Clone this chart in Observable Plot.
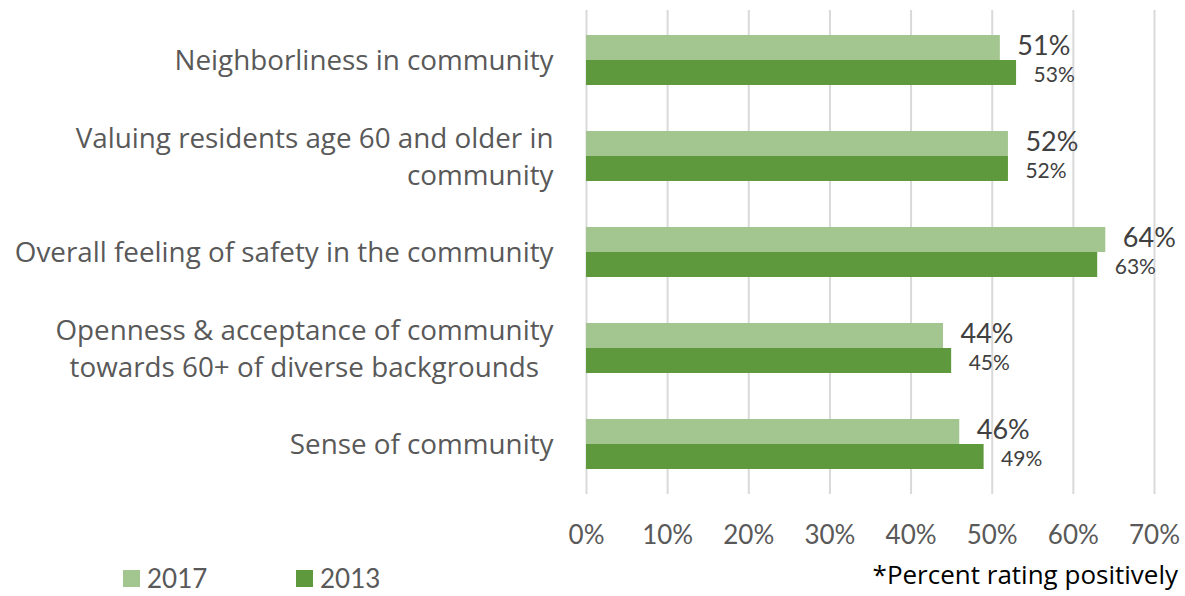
<!DOCTYPE html>
<html><head><meta charset="utf-8">
<script src="https://cdn.jsdelivr.net/npm/d3@7"></script>
<script src="https://cdn.jsdelivr.net/npm/@observablehq/plot@0.6"></script>
<style>
body{margin:0;background:#fff;font-family:Lato,"Open Sans",sans-serif}
#wrap{position:relative;width:1185px;height:596px;overflow:hidden;background:#fff}
#chart svg{display:block}
.leg{position:absolute;top:565px;font-size:26px;color:#595959;display:flex;align-items:center;line-height:1}
.sw{display:inline-block;width:17px;height:17px;margin-right:7px}
#note{position:absolute;right:7px;top:561px;font-size:26px;color:#000;line-height:1;font-family:"Open Sans",sans-serif}
</style></head><body>
<div id="wrap"><div id="chart"></div>
<div class="leg" id="leg1" style="left:123px"><span class="sw" id="sw1"></span><span id="lt1"></span></div>
<div class="leg" id="leg2" style="left:296px"><span class="sw" id="sw2"></span><span id="lt2"></span></div>
<div id="note">*Percent rating positively</div>
</div>
<script>
const categories = [
  "Neighborliness in community",
  "Valuing residents age 60 and older in\ncommunity",
  "Overall feeling of safety in the community",
  "Openness & acceptance of community\ntowards 60+ of diverse backgrounds\u00a0\u00a0",
  "Sense of community"
];
const series = ["2017", "2013"];
const values2017 = [51, 52, 64, 44, 46];
const values2013 = [53, 52, 63, 45, 49];
const xTicks = [0, 10, 20, 30, 40, 50, 60, 70];
const colors = ["#a3c58f", "#5f993d"];

const d2017 = categories.map((c, i) => ({category: c, series: series[0], value: values2017[i]}));
const d2013 = categories.map((c, i) => ({category: c, series: series[1], value: values2013[i]}));

const chart = Plot.plot({
  width: 1185, height: 560,
  marginLeft: 586, marginRight: 31, marginTop: 10, marginBottom: 66,
  style: {fontFamily: "Lato, 'Open Sans', sans-serif", background: "#fff"},
  x: {domain: [0, 70]},
  y: {domain: categories, paddingInner: 0.483, paddingOuter: 0.2415},
  marks: [
    Plot.gridX(xTicks, {stroke: "#d9d9d9", strokeWidth: 2, strokeOpacity: 1}),
    Plot.barX(d2017, {x: "value", y: "category", fill: colors[0], insetBottom: 25}),
    Plot.barX(d2013, {x: "value", y: "category", fill: colors[1], insetTop: 25}),
    Plot.text(d2017, {x: "value", y: "category", dy: -14, dx: 17, textAnchor: "start", fontSize: 27, fill: "#404040", text: d => d.value + "%"}),
    Plot.text(d2013, {x: "value", y: "category", dy: 14.5, dx: 17, textAnchor: "start", fontSize: 21, fill: "#404040", text: d => d.value + "%"}),
    Plot.axisX(xTicks, {tickSize: 0, tickPadding: 31, fontSize: 26, color: "#595959", tickFormat: d => d + "%", label: null}),
    Plot.axisY({tickSize: 0, tickPadding: 33, fontSize: 27.8, color: "#595959", lineHeight: 1.33, label: null, fontFamily: "'Open Sans', sans-serif", dy: -2})
  ]
});
document.getElementById("chart").appendChild(chart);
document.getElementById("sw1").style.background = colors[0];
document.getElementById("sw2").style.background = colors[1];
document.getElementById("lt1").textContent = series[0];
document.getElementById("lt2").textContent = series[1];
</script>
</body></html>
